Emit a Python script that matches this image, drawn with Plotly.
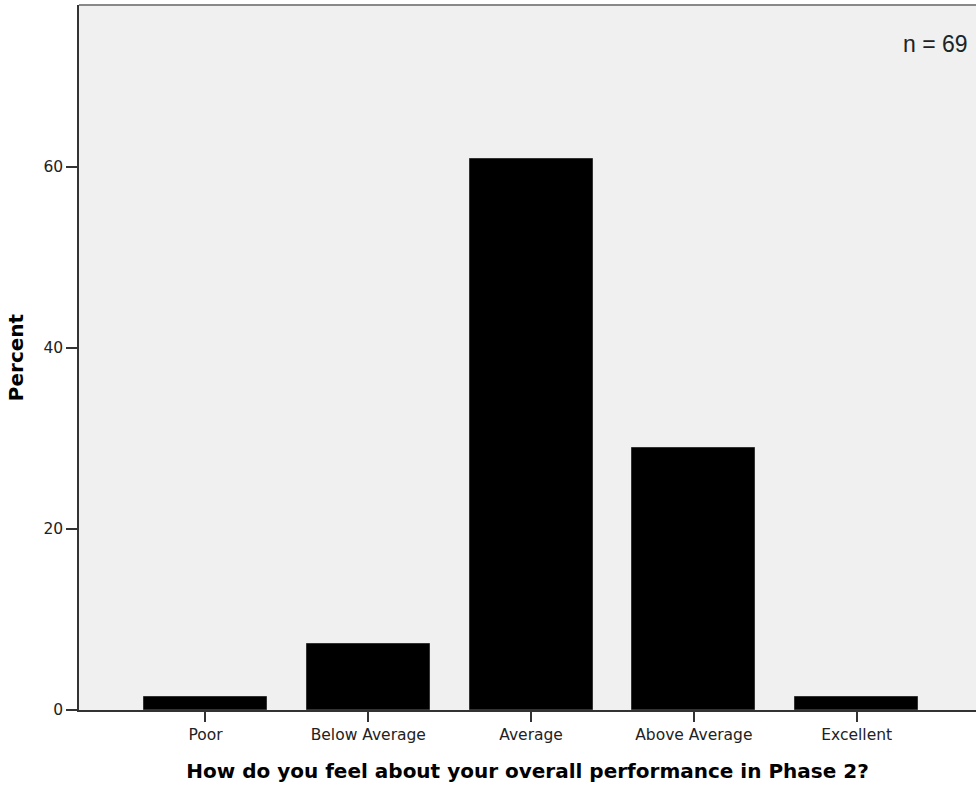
import plotly.graph_objects as go

categories = ["Poor", "Below Average", "Average", "Above Average", "Excellent"]
counts = [1, 5, 42, 20, 1]
n_total = 69
percent = [c / n_total * 100 for c in counts]
y_ticks = [0, 20, 40, 60]

fig = go.Figure()
fig.add_trace(go.Bar(
    x=list(range(len(categories))),
    y=percent,
    width=0.755,
    marker=dict(color="#000000", line=dict(color="#333333", width=1)),
    hoverinfo="y",
))

fig.update_layout(
    width=976, height=786,
    margin=dict(l=79, r=0, t=5, b=76),
    paper_bgcolor="white",
    plot_bgcolor="#f0f0f0",
    font=dict(family="DejaVu Sans, sans-serif", color="#000000"),
    showlegend=False,
    bargap=0,
    xaxis=dict(
        range=[-0.777, 4.733],
        tickmode="array",
        tickvals=list(range(len(categories))),
        ticktext=categories,
        ticks="outside", ticklen=10, tickwidth=1.5, tickcolor="#333333",
        showline=True, linecolor="#333333", linewidth=1.5,
        showgrid=False, zeroline=False,
        tickfont=dict(size=15.5, color="#222222"),
        title=dict(text="<b>How do you feel about your overall performance in Phase 2?</b>",
                   font=dict(size=20, family="DejaVu Sans, sans-serif"), standoff=21),
        fixedrange=True,
    ),
    yaxis=dict(
        range=[0, 77.9],
        tickmode="array",
        tickvals=y_ticks,
        ticks="outside", ticklen=11, tickwidth=1.5, tickcolor="#333333",
        showline=True, linecolor="#333333", linewidth=1.5,
        showgrid=False, zeroline=False,
        tickfont=dict(size=15.5, color="#222222"),
        title=dict(text="<b>Percent</b>", font=dict(size=20), standoff=14),
        fixedrange=True,
    ),
    shapes=[
        dict(type="line", xref="paper", yref="paper", x0=0, x1=1, y0=1, y1=1,
             line=dict(color="#888888", width=2)),
    ],
    annotations=[
        dict(text="n = 69", xref="paper", yref="paper", x=0.9933, y=0.9447,
             xanchor="right", yanchor="middle", showarrow=False,
             font=dict(size=23, family="Liberation Sans, Arial, sans-serif", color="#222222")),
    ],
)

fig.write_html("out.html", config={"displayModeBar": False},
               post_script="document.body.style.margin='0px';")
